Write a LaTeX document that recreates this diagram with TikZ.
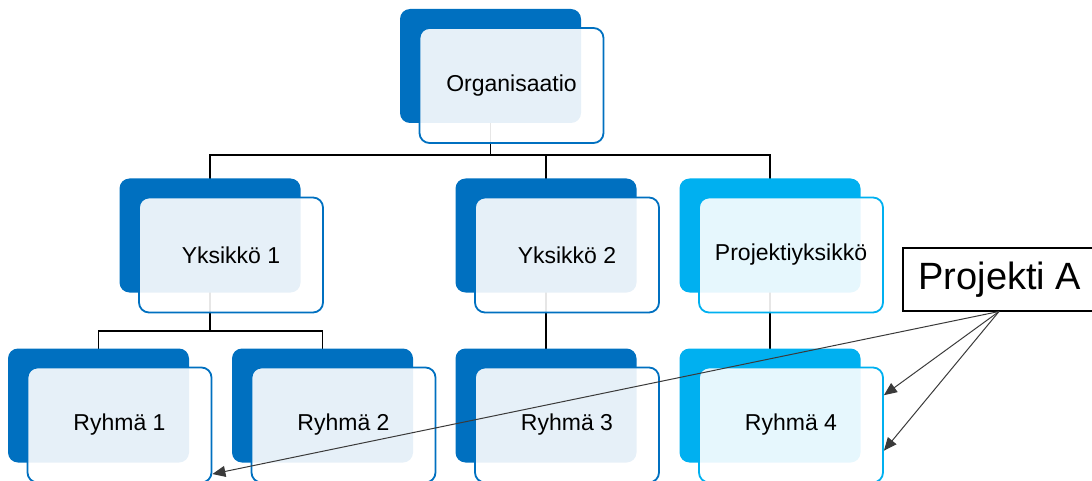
\documentclass[tikz,border=0pt]{standalone}
\usepackage{fontspec}
\setmainfont{Liberation Sans}
\usetikzlibrary{arrows.meta,calc,positioning}
\pgfdeclarelayer{bg}
\pgfsetlayers{bg,main}
\definecolor{unitblue}{HTML}{0070C0}
\definecolor{unitcyan}{HTML}{00B0F0}
\definecolor{pointer}{HTML}{3A3A3A}
\tikzset{
  backbox/.style={fill=#1, rounded corners=10pt, minimum width=181pt,
    minimum height=114pt, inner sep=0pt},
  frontbox/.style={draw=#1, line width=1.8pt, fill=white, fill opacity=0.9,
    text opacity=1, rounded corners=10pt, minimum width=184pt,
    minimum height=115pt, inner sep=0pt,
    font=\fontsize{23}{27}\selectfont},
  link/.style={line width=1.5pt, black},
  pointto/.style={pointer, line width=1pt,
    -{Triangle[length=13pt,width=11pt]}}
}
% one organisational unit: shadow card plus labelled card
\newcommand{\orgunit}[4]{%
  \node[backbox=#3] (#1B) at (#2) {};
  \node[frontbox=#3] (#1F) at ($(#1B.center)+(21,19.5)$) {#4};
}
\begin{document}
\begin{tikzpicture}[x=1pt,y=-1pt]
\useasboundingbox (0,0) rectangle (1092,481);
\clip (0,0) rectangle (1092,481);

\orgunit{org}{490.5,66}{unitblue}{Organisaatio}
\orgunit{yka}{210,235.5}{unitblue}{Yksikkö 1}
\orgunit{ykb}{546,235.5}{unitblue}{Yksikkö 2}
\orgunit{pyk}{770,235.5}{unitcyan}{Projektiyksikkö}
\orgunit{ra}{98.5,405.5}{unitblue}{Ryhmä 1}
\orgunit{rb}{322.5,405.5}{unitblue}{Ryhmä 2}
\orgunit{rc}{546,405.5}{unitblue}{Ryhmä 3}
\orgunit{rd}{770,405.5}{unitcyan}{Ryhmä 4}

% hierarchy connectors, behind the cards
\begin{pgfonlayer}{bg}
  \coordinate (busA) at ($(orgB.center)+(0,89)$);
  \draw[link] (orgB.center) -- (busA);
  \draw[link] (busA) -| (ykaB.center);
  \draw[link] (busA) -| (ykbB.center);
  \draw[link] (busA) -| (pykB.center);
  \coordinate (busB) at ($(ykaB.center)+(0,95.5)$);
  \draw[link] (ykaB.center) -- (busB);
  \draw[link] (busB) -| (raB.center);
  \draw[link] (busB) -| (rbB.center);
  \draw[link] (ykbB.center) -- (rcB.center);
  \draw[link] (pykB.center) -- (rdB.center);
\end{pgfonlayer}

% project label and its pointers
\node[draw, line width=1.5pt, minimum width=194pt, minimum height=63pt,
  inner sep=0pt, font=\fontsize{38}{44}\selectfont, anchor=north west]
  (proj) at (902,247) {Projekti A};
\coordinate (projfoot) at ($(proj.south west)+(97,0)$);
\draw[pointto] (projfoot) -- ($(rdF.north east)!0.245!(rdF.south east)$);
\draw[pointto] (projfoot) -- ($(rdF.north east)!0.72!(rdF.south east)$);
\draw[pointto] (projfoot) -- ($(raF.north east)!0.92!(raF.south east)$);
\end{tikzpicture}
\end{document}
